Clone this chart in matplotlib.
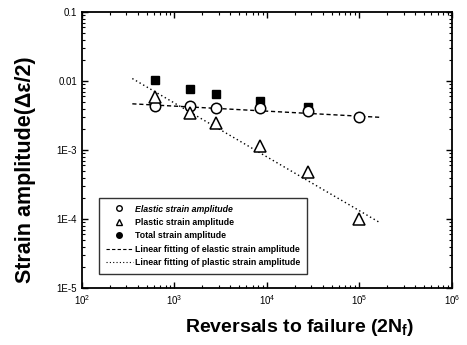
import matplotlib
matplotlib.use("Agg")
import matplotlib.pyplot as plt
import numpy as np
from matplotlib.lines import Line2D
from matplotlib.ticker import FixedLocator, LogLocator, NullFormatter

plt.rcParams['font.family'] = ['Liberation Sans', 'DejaVu Sans']
plt.rcParams['mathtext.fontset'] = 'custom'
plt.rcParams['mathtext.rm'] = 'Liberation Sans'
plt.rcParams['mathtext.it'] = 'Liberation Sans:italic'
plt.rcParams['mathtext.bf'] = 'Liberation Sans:bold'

# data
reversals = [615, 1480, 2800, 8500, 28000, 100000]
elastic = [0.0044, 0.0044, 0.0041, 0.0041, 0.0037, 0.0030]
plastic = [0.0059, 0.0035, 0.0025, 0.00115, 0.00048, 0.0001]
total_rev = [615, 1480, 2800, 8500, 28000]
total = [0.0102, 0.0077, 0.0065, 0.0051, 0.0042]

# fitted lines: y = coef * (2Nf)^exp
fit_range = [350, 165000]
elastic_coef, elastic_exp = 0.00718, -0.073
plastic_coef, plastic_exp = 1.05, -0.78

y_ticks = [1e-5, 1e-4, 1e-3, 1e-2, 1e-1]
y_ticklabels = ['1E-5', '1E-4', '1E-3', '0.01', '0.1']
x_ticks = [1e2, 1e3, 1e4, 1e5, 1e6]
x_ticklabels = ['$10^2$', '$10^3$', '$10^4$', '$10^5$', '$10^6$']

fig = plt.figure(figsize=(4.67, 3.45), dpi=100)
ax = fig.add_axes([0.1756, 0.165, 0.792, 0.8])

xf = np.logspace(np.log10(fit_range[0]), np.log10(fit_range[1]), 50)
ax.plot(xf, elastic_coef * xf ** elastic_exp, color='black', linestyle=(0, (3, 2)), linewidth=1)
ax.plot(xf, plastic_coef * xf ** plastic_exp, color='black', linestyle=(0, (1, 2)), linewidth=1)

ax.plot(total_rev, total, 's', color='black', markersize=6, zorder=3)
ax.plot(reversals, elastic, 'o', mfc='white', mec='black', mew=1.1, markersize=7.5, zorder=4)
ax.plot(reversals, plastic, '^', mfc='white', mec='black', mew=1.1, markersize=8, zorder=4)

ax.set_xscale('log')
ax.set_yscale('log')
ax.set_xlim(1e2, 1e6)
ax.set_ylim(1e-5, 1e-1)

ax.yaxis.set_major_locator(FixedLocator(y_ticks))
ax.set_yticklabels(y_ticklabels)
ax.xaxis.set_major_locator(FixedLocator(x_ticks))
ax.set_xticklabels(x_ticklabels)
ax.xaxis.set_minor_locator(LogLocator(base=10, subs=np.arange(2, 10)))
ax.yaxis.set_minor_locator(LogLocator(base=10, subs=np.arange(2, 10)))
ax.xaxis.set_minor_formatter(NullFormatter())
ax.yaxis.set_minor_formatter(NullFormatter())
ax.tick_params(which='both', direction='in', top=True, right=True, labelsize=7)
ax.tick_params(which='major', length=4, width=1)
ax.tick_params(which='minor', length=2, width=0.8)
for s in ax.spines.values():
    s.set_linewidth(1.3)

ax.set_xlabel('Reversals to failure (2N$_\\mathbf{f}$)', fontsize=14, fontweight='bold')
ax.xaxis.set_label_coords(0.59, -0.105)
ax.set_ylabel('Strain amplitude(\u0394\u03b5/2)', fontsize=15.5, fontweight='bold')
ax.yaxis.set_label_coords(-0.125, 0.43)

handles = [
    Line2D([], [], marker='o', linestyle='none', mfc='white', mec='black', markersize=4),
    Line2D([], [], marker='^', linestyle='none', mfc='white', mec='black', markersize=5),
    Line2D([], [], marker='o', linestyle='none', color='black', markersize=4),
    Line2D([], [], color='black', linestyle=(0, (3, 2)), linewidth=0.8),
    Line2D([], [], color='black', linestyle=(0, (1, 2)), linewidth=0.8),
]
labels = ['Elastic strain amplitude', 'Plastic strain amplitude', 'Total strain amplitude',
          'Linear fitting of elastic strain amplitude', 'Linear fitting of plastic strain amplitude']
leg = ax.legend(handles, labels, loc='lower left', bbox_to_anchor=(0.035, 0.035),
                frameon=True, fancybox=False, edgecolor='black',
                handlelength=3, labelspacing=0.5, borderpad=0.8, handletextpad=0.3,
                prop={'weight': 'bold', 'size': 6.3})
leg.get_frame().set_linewidth(1)
leg.get_texts()[0].set_style('italic')

fig.savefig('out.png', dpi=100)
